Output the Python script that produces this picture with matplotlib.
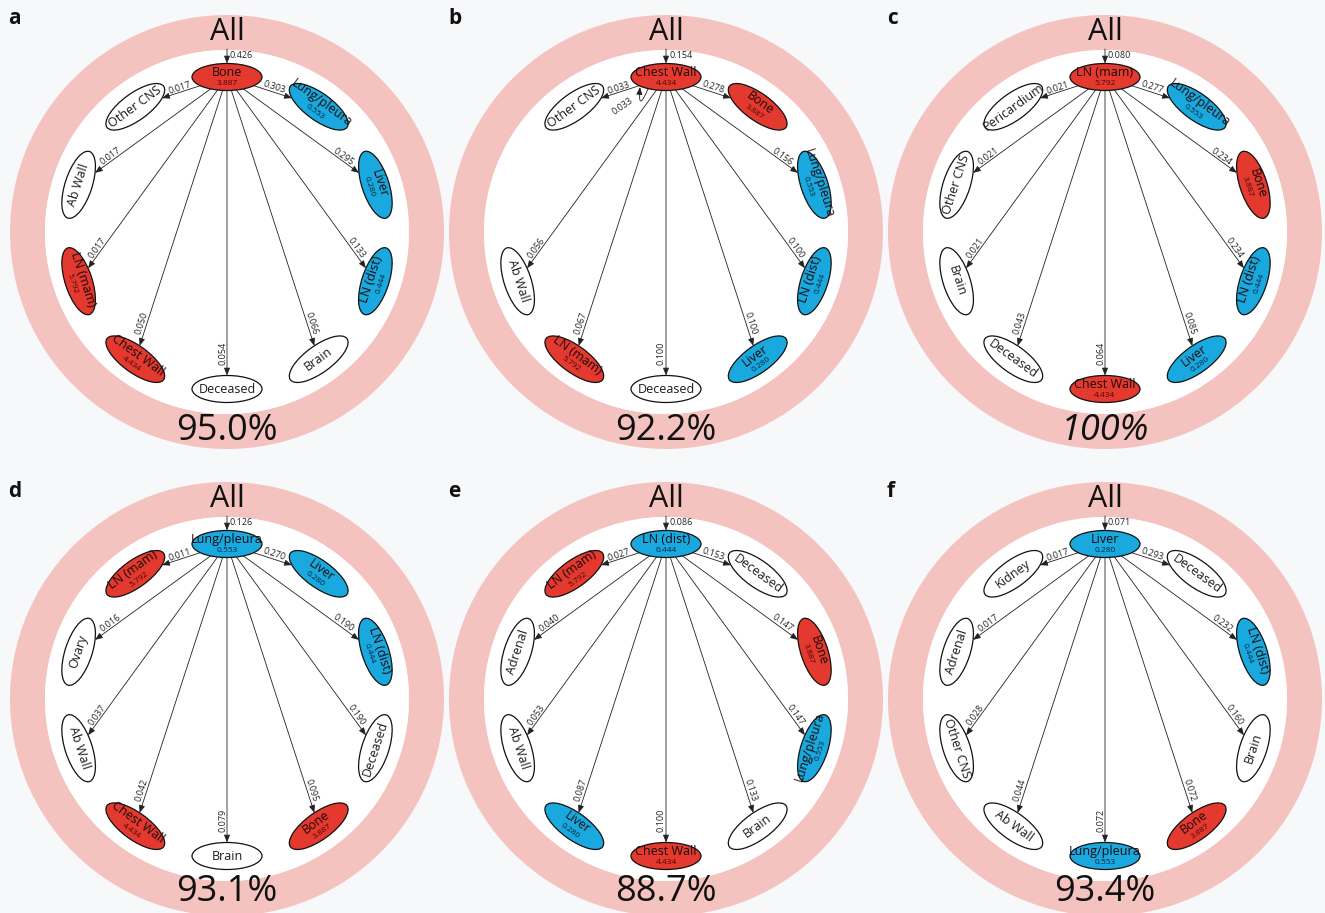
import numpy as np
import matplotlib
matplotlib.use("Agg")
import matplotlib.pyplot as plt
from matplotlib.patches import Ellipse, Wedge, Circle, FancyArrowPatch

plt.rcParams['font.family'] = ['Open Sans', 'DejaVu Sans']

# ---------------- data ----------------
red_nodes = ['Bone', 'Chest Wall', 'LN (mam)']
red_values = [3.887, 4.434, 5.792]
blue_nodes = ['Lung/pleura', 'Liver', 'LN (dist)']
blue_values = [0.553, 0.280, 0.444]

panel_letters = ['a', 'b', 'c', 'd', 'e', 'f']
panel_centers = ['Bone', 'Chest Wall', 'LN (mam)', 'Lung/pleura', 'LN (dist)', 'Liver']
panel_all_values = [0.426, 0.154, 0.080, 0.126, 0.086, 0.071]
panel_percent = ['95.0%', '92.2%', '100%', '93.1%', '88.7%', '93.4%']

# targets clockwise from the top node (None = empty slot)
targets_a = ['Lung/pleura', 'Liver', 'LN (dist)', 'Brain', 'Deceased', 'Chest Wall', 'LN (mam)', 'Ab Wall', 'Other CNS']
values_a = [0.303, 0.295, 0.133, 0.066, 0.054, 0.050, 0.017, 0.017, 0.017]
targets_b = ['Bone', 'Lung/pleura', 'LN (dist)', 'Liver', 'Deceased', 'LN (mam)', 'Ab Wall', None, 'Other CNS']
values_b = [0.278, 0.156, 0.100, 0.100, 0.100, 0.067, 0.056, None, 0.033]
self_loop_b = 0.033
targets_c = ['Lung/pleura', 'Bone', 'LN (dist)', 'Liver', 'Chest Wall', 'Deceased', 'Brain', 'Other CNS', 'Pericardium']
values_c = [0.277, 0.234, 0.234, 0.085, 0.064, 0.043, 0.021, 0.021, 0.021]
targets_d = ['Liver', 'LN (dist)', 'Deceased', 'Bone', 'Brain', 'Chest Wall', 'Ab Wall', 'Ovary', 'LN (mam)']
values_d = [0.270, 0.190, 0.190, 0.095, 0.079, 0.042, 0.037, 0.016, 0.011]
targets_e = ['Deceased', 'Bone', 'Lung/pleura', 'Brain', 'Chest Wall', 'Liver', 'Ab Wall', 'Adrenal', 'LN (mam)']
values_e = [0.153, 0.147, 0.147, 0.133, 0.100, 0.087, 0.053, 0.040, 0.027]
targets_f = ['Deceased', 'LN (dist)', 'Brain', 'Bone', 'Lung/pleura', 'Ab Wall', 'Other CNS', 'Adrenal', 'Kidney']
values_f = [0.293, 0.232, 0.160, 0.072, 0.072, 0.044, 0.028, 0.017, 0.017]

panel_targets = [targets_a, targets_b, targets_c, targets_d, targets_e, targets_f]
panel_values = [values_a, values_b, values_c, values_d, values_e, values_f]

# ---------------- style ----------------
W, H = 1325, 913
RED = '#e4392f'
BLUE = '#19a9df'
RING = '#f5c3bf'
BG = '#f7f8fa'
col_x = [227, 666, 1105]
row_y = [H - 232, H - 699]
pct_dy = [-199, -193]
R_RING_OUT, R_RING_IN = 217, 182
R_NODE = 156
EW, EH = 70, 27

node_fill = {}
node_val = {}
for n, v in zip(red_nodes, red_values):
    node_fill[n] = RED
    node_val[n] = v
for n, v in zip(blue_nodes, blue_values):
    node_fill[n] = BLUE
    node_val[n] = v

fig = plt.figure(figsize=(W / 100, H / 100), dpi=100, facecolor=BG)
ax = fig.add_axes([0, 0, 1, 1])
ax.set_xlim(0, W)
ax.set_ylim(0, H)
ax.set_axis_off()
ax.set_facecolor(BG)


def norm_rot(a):
    while a > 90:
        a -= 180
    while a <= -90:
        a += 180
    return a


def rot_vec(v, deg):
    t = np.radians(deg)
    return np.array([v[0] * np.cos(t) - v[1] * np.sin(t), v[0] * np.sin(t) + v[1] * np.cos(t)])


def ell_dist(u, rot):
    ul = rot_vec(u, -rot)
    return 1.0 / np.sqrt((ul[0] / (EW / 2)) ** 2 + (ul[1] / (EH / 2)) ** 2)


def draw_node(x, y, name, rot):
    fc = node_fill.get(name, 'white')
    ax.add_patch(Ellipse((x, y), EW, EH, angle=rot, facecolor=fc, edgecolor='#111111', lw=0.9, zorder=3))
    if name in node_val:
        p1 = np.array([x, y]) + rot_vec((0, 4.5), rot)
        p2 = np.array([x, y]) + rot_vec((0, -6.5), rot)
        vcol = '#4a0805' if fc == RED else '#06243c'
        ax.text(p1[0], p1[1], name, fontsize=9, rotation=rot, rotation_mode='anchor',
                ha='center', va='center', color='#1a0a0a', zorder=4)
        ax.text(p2[0], p2[1], f'{node_val[name]:.3f}', fontsize=6, rotation=rot, rotation_mode='anchor',
                ha='center', va='center', color=vcol, zorder=4)
    else:
        ax.text(x, y, name, fontsize=9, rotation=rot, rotation_mode='anchor',
                ha='center', va='center', color='#1a1a1a', zorder=4)


def arrow(p0, p1):
    a = FancyArrowPatch(p0, p1, arrowstyle='-|>,head_length=0.45,head_width=0.18',
                        mutation_scale=10, lw=0.6, color='#222222', shrinkA=0, shrinkB=0, zorder=2)
    ax.add_patch(a)


for i in range(6):
    cx = col_x[i % 3]
    cy = row_y[i // 3]
    ax.add_patch(Wedge((cx, cy), R_RING_OUT, 0, 360, width=R_RING_OUT - R_RING_IN,
                       facecolor=RING, edgecolor='none', zorder=0))
    ax.add_patch(Circle((cx, cy), R_RING_IN, facecolor='white', edgecolor='none', zorder=0))
    ax.text(cx, cy + 200, 'All', fontsize=22, ha='center', va='center', color='#111111', zorder=4)
    ax.text(cx, cy + pct_dy[i // 3], panel_percent[i], fontsize=26, ha='center', va='center',
            color='#111111', style='italic' if panel_percent[i] == '100%' else 'normal', zorder=4)
    lx = [8, 448, 887][i % 3]
    ly = [H - 18, H - 491][i // 3]
    ax.text(lx, ly, panel_letters[i], fontsize=15, fontweight='bold', ha='left', va='center', color='#111111')

    ncy = cy - 1
    src = np.array([cx, ncy + R_NODE])
    src_name = panel_centers[i]
    draw_node(src[0], src[1], src_name, 0)
    # arrow from "All"
    arrow((cx, cy + 183), (cx, src[1] + EH / 2))
    ax.text(cx + 3, cy + 177, f'{panel_all_values[i]:.3f}', fontsize=6.5, ha='left', va='center',
            color='#222222', zorder=4)

    for k, (tname, tval) in enumerate(zip(panel_targets[i], panel_values[i])):
        if tname is None:
            continue
        th = 36 * (k + 1)
        t = np.radians(th)
        p = np.array([cx + R_NODE * np.sin(t), ncy + R_NODE * np.cos(t)])
        rot = norm_rot(-th)
        draw_node(p[0], p[1], tname, rot)
        d = p - src
        L0 = np.hypot(*d)
        u = d / L0
        start = src + u * ell_dist(u, 0)
        end = p - u * ell_dist(u, rot)
        arrow(tuple(start), tuple(end))
        L = np.hypot(*(end - start))
        alpha = norm_rot(np.degrees(np.arctan2(u[1], u[0])))
        off = np.array([-np.sin(np.radians(alpha)), np.cos(np.radians(alpha))])
        lp = start + u * max(L / 2, L - 22) + off * 4.5
        ax.text(lp[0], lp[1], f'{tval:.3f}', fontsize=6.5, rotation=alpha, rotation_mode='anchor',
                ha='center', va='center', color='#222222', zorder=4)

    if i == 1:
        # self loop on the top node
        pa = (src[0] - 18, src[1] - 12)
        pb = (src[0] - 26, src[1] - 10)
        loop = FancyArrowPatch(pa, pb, connectionstyle='arc3,rad=-3.2',
                               arrowstyle='-|>,head_length=0.45,head_width=0.18',
                               mutation_scale=10, lw=0.6, color='#222222', shrinkA=0, shrinkB=0, zorder=2)
        ax.add_patch(loop)
        ax.text(src[0] - 43, src[1] - 29, f'{self_loop_b:.3f}', fontsize=6.5, rotation=35,
                rotation_mode='anchor', ha='center', va='center', color='#222222', zorder=4)

fig.savefig('out.png', dpi=100, facecolor=BG)
